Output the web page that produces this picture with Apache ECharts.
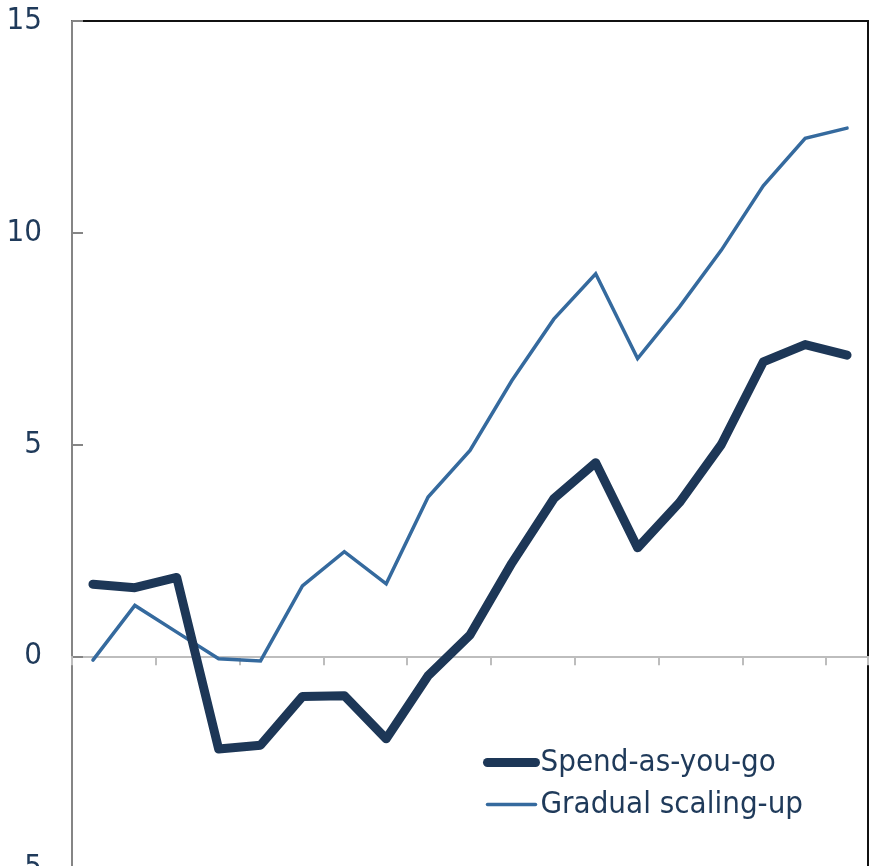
<!DOCTYPE html>
<html>
<head>
<meta charset="utf-8">
<script src="https://cdn.jsdelivr.net/npm/echarts@6/dist/echarts.min.js"></script>
<style>
  html, body { margin: 0; padding: 0; background: #ffffff; overflow: hidden; }
  #chart { width: 888px; height: 880px; }
</style>
</head>
<body>
<div id="chart"></div>
<script>
// Periods along the horizontal axis (not labelled on the chart)
var periods = ['1', '2', '3', '4', '5', '6', '7', '8', '9', '10',
               '11', '12', '13', '14', '15', '16', '17', '18', '19'];

// Series values
var spendAsYouGo = [1.70, 1.62, 1.86, -2.19, -2.10, -0.95, -0.93, -1.95, -0.46, 0.50,
                    2.20, 3.72, 4.57, 2.56, 3.63, 5.00, 6.95, 7.36, 7.11];
var gradualScalingUp = [-0.09, 1.20, 0.57, -0.06, -0.11, 1.66, 2.47, 1.71, 3.76, 4.86,
                        6.51, 7.96, 9.03, 7.03, 8.25, 9.59, 11.11, 12.23, 12.47];

// Value axis range and step
var yMin = -5, yMax = 15, yStep = 5;

var fontFamily = '"DejaVu Sans Condensed", "DejaVu Sans", Tahoma, sans-serif';
var textColor = '#1f3a5a';
var spendColor = '#1d3757';
var gradualColor = '#356a9e';

var chart = echarts.init(document.getElementById('chart'), null, { renderer: 'canvas' });

chart.setOption({
  animation: false,
  backgroundColor: '#ffffff',
  grid: {
    left: 72,
    top: 21,
    right: 20,
    bottom: 12,
    outerBoundsMode: 'none',
    show: true,
    borderColor: '#111111',
    borderWidth: 2,
    containLabel: false
  },
  legend: {
    orient: 'vertical',
    left: 483,
    top: 747,
    itemWidth: 48,
    itemHeight: 14,
    itemGap: 11,
    padding: 0,
    textStyle: {
      fontFamily: fontFamily,
      fontSize: 31,
      lineHeight: 31,
      color: textColor
    },
    data: [
      {
        name: 'Spend-as-you-go',
        itemStyle: { opacity: 0 },
        lineStyle: { color: spendColor, width: 9, cap: 'round' }
      },
      {
        name: 'Gradual scaling-up',
        itemStyle: { opacity: 0 },
        lineStyle: { color: gradualColor, width: 3.5, cap: 'round' }
      }
    ]
  },
  xAxis: {
    type: 'category',
    data: periods,
    boundaryGap: true,
    axisLine: { onZero: true, lineStyle: { color: '#bdbdbd', width: 2 } },
    axisTick: { show: true, interval: 1, length: 9, lineStyle: { color: '#bdbdbd', width: 2 } },
    axisLabel: { show: false },
    splitLine: { show: false }
  },
  yAxis: {
    type: 'value',
    min: yMin,
    max: yMax,
    interval: yStep,
    axisLine: { show: true, lineStyle: { color: '#858585', width: 2 } },
    axisTick: { show: true, inside: true, length: 11, lineStyle: { color: '#858585', width: 2 } },
    axisLabel: {
      margin: 30,
      fontFamily: fontFamily,
      fontSize: 31,
      color: textColor
    },
    splitLine: { show: false }
  },
  series: [
    {
      name: 'Spend-as-you-go',
      type: 'line',
      data: spendAsYouGo,
      symbol: 'none',
      z: 3,
      lineStyle: { color: spendColor, width: 9, cap: 'round', join: 'round' },
      itemStyle: { color: spendColor }
    },
    {
      name: 'Gradual scaling-up',
      type: 'line',
      data: gradualScalingUp,
      symbol: 'none',
      z: 2,
      lineStyle: { color: gradualColor, width: 3.5, cap: 'round', join: 'miter' },
      itemStyle: { color: gradualColor }
    }
  ]
});
</script>
</body>
</html>
